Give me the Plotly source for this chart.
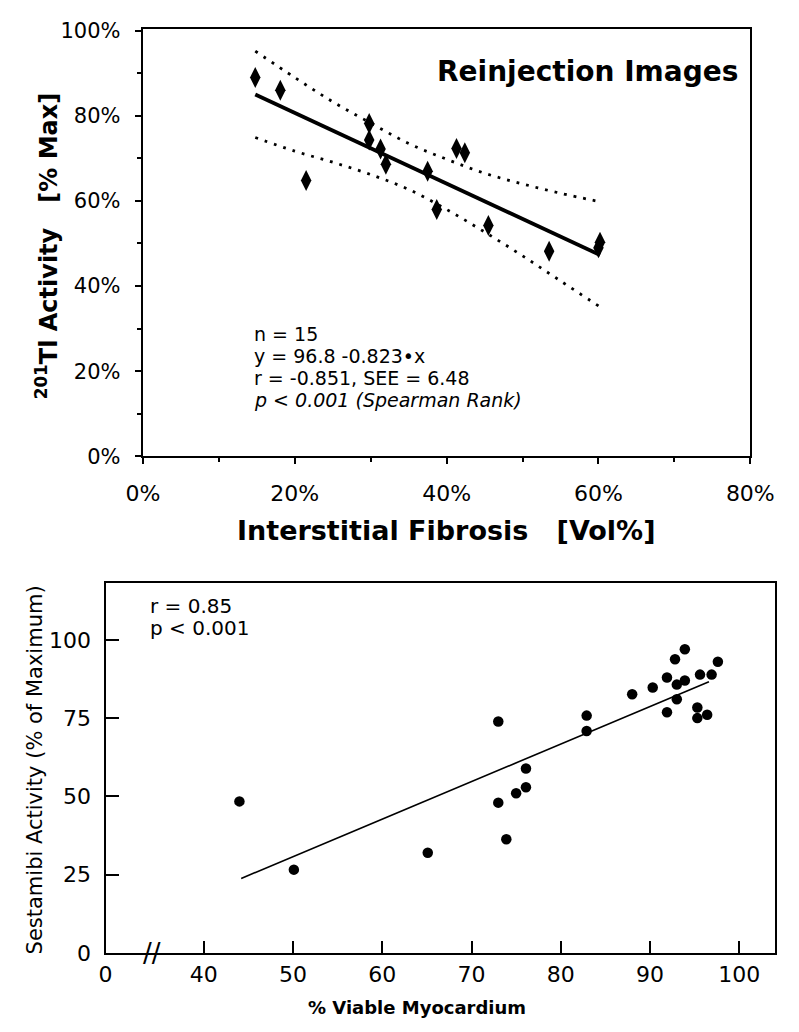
import plotly.graph_objects as go

# ---------------- Top chart data ----------------
fib_x = [14.8, 18.1, 21.5, 29.8, 29.8, 31.3, 32.0, 37.5, 38.7, 41.3, 42.4, 45.5, 53.5, 60.2, 60.0]
tl_y = [89.0, 86.0, 64.8, 78.2, 74.3, 72.2, 68.6, 67.0, 58.0, 72.3, 71.3, 54.2, 48.2, 50.3, 49.0]
fit_top_x = [14.8, 60.2]
fit_top_y = [85.0, 47.3]
band_x = [14.8, 20, 25, 30, 35, 40, 45, 50, 55, 60.2]
band_upper = [95.2, 89.0, 83.3, 78.3, 73.5, 69.8, 66.5, 64.0, 61.8, 59.8]
band_lower = [74.9, 71.7, 69.1, 66.2, 62.7, 58.0, 52.7, 47.1, 41.2, 35.1]
top_yticks = [0, 20, 40, 60, 80, 100]
top_xticks = [0, 20, 40, 60, 80]

# ---------------- Bottom chart data ----------------
viable_x = [44.0, 50.1, 65.1, 73.0, 73.0, 73.9, 75.0, 76.1, 76.1, 82.9, 82.9, 88.0, 90.3,
            91.9, 91.9, 92.8, 93.0, 93.0, 93.9, 93.9, 95.3, 95.3, 95.6, 96.4, 96.9, 97.6]
mibi_y = [48.4, 26.6, 32.0, 73.9, 48.0, 36.3, 51.0, 52.9, 58.9, 75.8, 70.9, 82.6, 84.8,
          88.0, 76.9, 93.8, 85.7, 81.0, 97.0, 87.0, 78.4, 75.0, 88.9, 76.1, 88.9, 93.0]
fit_bot_x = [44.2, 96.6]
fit_bot_y = [23.8, 86.6]
bot_xticks = [29, 40, 50, 60, 70, 80, 90, 100]
bot_xtext = ["0", "40", "50", "60", "70", "80", "90", "100"]
bot_yticks = [0, 25, 50, 75, 100]

W, H = 799, 1032
FONT = "DejaVu Sans, Verdana, sans-serif"

fig = go.Figure()

# top: confidence bands, regression line, points
for band in (band_upper, band_lower):
    fig.add_trace(go.Scatter(x=band_x, y=band, mode="lines", line_shape="spline",
                             line=dict(color="black", width=2.8, dash="2.8px,7px"),
                             xaxis="x", yaxis="y", hoverinfo="skip"))
fig.add_trace(go.Scatter(x=fit_top_x, y=fit_top_y, mode="lines",
                         line=dict(color="black", width=3.8), xaxis="x", yaxis="y"))
fig.add_trace(go.Scatter(x=fib_x, y=tl_y, mode="markers",
                         marker=dict(symbol="diamond-tall", size=15, color="black"),
                         xaxis="x", yaxis="y"))

# bottom
fig.add_trace(go.Scatter(x=fit_bot_x, y=fit_bot_y, mode="lines",
                         line=dict(color="black", width=1.6), xaxis="x2", yaxis="y2"))
fig.add_trace(go.Scatter(x=viable_x, y=mibi_y, mode="markers",
                         marker=dict(symbol="circle", size=10.5, color="black"),
                         xaxis="x2", yaxis="y2"))


def px_x(p):
    return p / W


def px_y(p):
    return 1 - p / H


axis_common = dict(showgrid=False, zeroline=False, linecolor="black", color="black",
                   tickcolor="black", showline=True, mirror=True)

fig.update_layout(
    width=W, height=H, margin=dict(l=0, r=0, t=0, b=0),
    paper_bgcolor="white", plot_bgcolor="white", showlegend=False,
    font=dict(family=FONT, color="black"),
    xaxis=dict(domain=[px_x(132.7), px_x(773)], range=[0, 80], anchor="y",
               tickvals=top_xticks, ticktext=[f"{v}%" for v in top_xticks],
               ticks="outside", ticklen=6, tickwidth=2, linewidth=2.4,
               minor=dict(dtick=10, ticks="outside", ticklen=4, tickwidth=2, tickcolor="black"),
               tickfont=dict(size=22, family=FONT), ticklabelstandoff=10, **axis_common),
    yaxis=dict(domain=[px_y(457), px_y(20)], range=[0, 100.5], anchor="x",
               tickvals=top_yticks, ticktext=[f"{v}%" for v in top_yticks],
               ticks="outside", ticklen=6, tickwidth=2, linewidth=2.4,
               minor=dict(dtick=10, ticks="outside", ticklen=4, tickwidth=2, tickcolor="black"),
               tickfont=dict(size=21, family=FONT), ticklabelstandoff=10, **axis_common),
    xaxis2=dict(domain=[px_x(93.3), 1.0], range=[29, 104], anchor="y2",
                tickvals=bot_xticks, ticktext=bot_xtext,
                ticks="inside", ticklen=12, tickwidth=1.5, linewidth=2,
                tickfont=dict(size=22, family=FONT), ticklabelstandoff=1, **axis_common),
    yaxis2=dict(domain=[px_y(964.5), px_y(587)], range=[0, 118], anchor="x2",
                tickvals=bot_yticks, ticktext=[str(v) for v in bot_yticks],
                ticks="inside", ticklen=13, tickwidth=1.5, linewidth=2,
                tickfont=dict(size=22, family=FONT), ticklabelstandoff=8, **axis_common),
)

ann = []
# top chart texts
ann.append(dict(text="<b>Reinjection Images</b>", x=78.6, y=90.5, xref="x", yref="y",
                xanchor="right", yanchor="middle", showarrow=False,
                font=dict(size=28, family=FONT)))
stats = ["n = 15", "y = 96.8 -0.823\u2022x", "r = -0.851, SEE = 6.48",
         "<i>p < 0.001 (Spearman Rank)</i>"]
for i, s in enumerate(stats):
    ann.append(dict(text=s, x=14.4, y=28.8 - i * 5.2, xref="x", yref="y",
                    xanchor="left", yanchor="middle", showarrow=False,
                    font=dict(size=19, family=FONT)))
ann.append(dict(text="<b><sup>201</sup>Tl Activity\u00a0\u00a0\u00a0[% Max]</b>",
                x=px_x(31), y=px_y(242), xref="paper", yref="paper", textangle=-90,
                xanchor="center", yanchor="middle", showarrow=False,
                font=dict(size=24, family=FONT)))
ann.append(dict(text="<b>Interstitial Fibrosis\u00a0\u00a0\u00a0[Vol%]</b>",
                x=px_x(453), y=px_y(533), xref="paper", yref="paper",
                xanchor="center", yanchor="middle", showarrow=False,
                font=dict(size=27, family=FONT)))
# bottom chart texts
ann.append(dict(text="r = 0.85", x=33.8, y=110.9, xref="x2", yref="y2",
                xanchor="left", yanchor="middle", showarrow=False,
                font=dict(size=20, family=FONT)))
ann.append(dict(text="p < 0.001", x=33.8, y=103.9, xref="x2", yref="y2",
                xanchor="left", yanchor="middle", showarrow=False,
                font=dict(size=20, family=FONT)))
ann.append(dict(text="Sestamibi Activity (% of Maximum)",
                x=px_x(19), y=px_y(778), xref="paper", yref="paper", textangle=-90,
                xanchor="center", yanchor="middle", showarrow=False,
                font=dict(size=21, family=FONT)))
ann.append(dict(text="<b>% Viable Myocardium</b>",
                x=px_x(422), y=px_y(1020), xref="paper", yref="paper",
                xanchor="center", yanchor="middle", showarrow=False,
                font=dict(size=18, family=FONT)))
ann.append(dict(text="//", x=34.2, y=0, xref="x2", yref="y2",
                xanchor="center", yanchor="middle", showarrow=False,
                font=dict(size=26, family=FONT)))
fig.update_layout(annotations=ann)

fig.write_html("out.html", config={"displayModeBar": False},
               post_script="document.body.style.margin='0';")
